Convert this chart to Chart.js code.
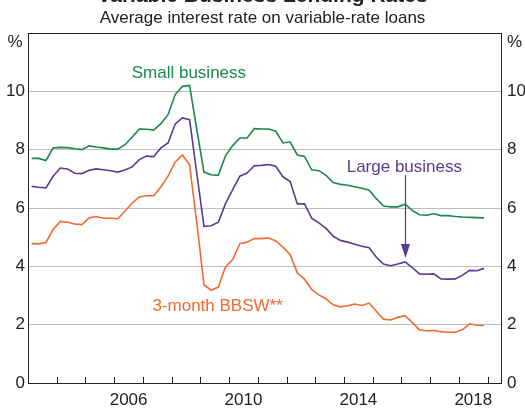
<!DOCTYPE html>
<html>
<head>
<meta charset="utf-8">
<script src="https://cdn.jsdelivr.net/npm/chart.js@4"></script>
<style>
  html, body { margin: 0; padding: 0; background: #fff; }
  #wrap { width: 525px; height: 408px; overflow: hidden; position: relative; }
  #chart { position: absolute; left: 0; top: -15px; }
</style>
</head>
<body>
<div id="wrap"><canvas id="chart" width="525" height="423"></canvas></div>
<script>
// quarterly, 2003:Q1 to 2018:Q4, plotted at mid-quarter
const firstYear = 2003;
const lastYear = 2018;
const quarters = [];
for (let y = firstYear; y <= lastYear; y++) {
  for (let q = 1; q <= 4; q++) quarters.push(y + (q - 0.5) / 4);
}

const smallBusiness = [
  7.70, 7.70, 7.63, 8.06, 8.08, 8.07, 8.03, 8.00, 8.13, 8.09, 8.06, 8.02, 8.02, 8.17, 8.43, 8.71,
  8.70, 8.67, 8.89, 9.20, 9.89, 10.17, 10.20, 8.70, 7.23, 7.14, 7.12, 7.79, 8.14, 8.40, 8.40, 8.72,
  8.71, 8.71, 8.63, 8.23, 8.27, 7.82, 7.77, 7.31, 7.28, 7.12, 6.87, 6.81, 6.78, 6.73, 6.68, 6.61,
  6.32, 6.07, 6.04, 6.04, 6.13, 5.92, 5.77, 5.75, 5.80, 5.74, 5.74, 5.71, 5.69, 5.68, 5.67, 5.66
];
const largeBusiness = [
  6.74, 6.71, 6.69, 7.09, 7.37, 7.34, 7.19, 7.18, 7.29, 7.34, 7.31, 7.28, 7.23, 7.30, 7.41, 7.66,
  7.78, 7.76, 8.06, 8.23, 8.88, 9.09, 9.03, 7.20, 5.37, 5.39, 5.51, 6.15, 6.63, 7.09, 7.20, 7.45,
  7.46, 7.49, 7.43, 7.07, 6.91, 6.14, 6.14, 5.65, 5.49, 5.30, 5.03, 4.89, 4.83, 4.76, 4.69, 4.64,
  4.31, 4.08, 4.02, 4.08, 4.15, 3.96, 3.74, 3.73, 3.74, 3.57, 3.56, 3.57, 3.70, 3.86, 3.85, 3.93
];
const bbsw = [
  4.78, 4.77, 4.82, 5.26, 5.54, 5.51, 5.45, 5.43, 5.66, 5.71, 5.65, 5.65, 5.63, 5.89, 6.17, 6.38,
  6.42, 6.42, 6.72, 7.09, 7.58, 7.82, 7.48, 5.50, 3.37, 3.18, 3.29, 3.98, 4.23, 4.78, 4.83, 4.95,
  4.95, 4.97, 4.87, 4.66, 4.41, 3.77, 3.56, 3.21, 3.02, 2.88, 2.68, 2.61, 2.65, 2.71, 2.66, 2.74,
  2.46, 2.19, 2.16, 2.25, 2.31, 2.08, 1.82, 1.79, 1.80, 1.76, 1.74, 1.74, 1.83, 2.03, 1.98, 1.97
];

const yearLabels = [2006, 2010, 2014, 2018];
const seriesNames = ['Small business', 'Large business', '3-month BBSW**'];
const seriesColors = ['#1a8a4c', '#5a3b8e', '#f4692f'];
// where the series names sit, in data units
const nameX = [2008.6, 2016.1, 2009.6];
const nameY = [10.63, 7.4, 2.64];
// arrow from the large business label down to its line
const arrowX = 2016.125;
const arrowFrom = 7.13;
const arrowTo = 4.29;

const FONT = 'Arial, "Liberation Sans", sans-serif';
const INK = '#222';

const toPoints = vals => vals.map((v, i) => ({x: quarters[i], y: v}));

const frame = {
  id: 'frame',
  afterDraw(chart) {
    const {ctx, chartArea: a, scales} = chart;
    ctx.save();
    // box round the plot
    ctx.strokeStyle = INK;
    ctx.lineWidth = 1;
    ctx.strokeRect(Math.round(a.left) + 0.5, Math.round(a.top) + 0.5,
      Math.round(a.right - a.left) - 1, Math.round(a.bottom - a.top));
    // inward year ticks
    for (let y = firstYear + 1; y <= lastYear + 1; y++) {
      const px = Math.round(scales.x.getPixelForValue(y)) + 0.5;
      ctx.beginPath();
      ctx.moveTo(px, a.bottom);
      ctx.lineTo(px, a.bottom - 6);
      ctx.stroke();
    }
    // unit labels
    ctx.font = '17px ' + FONT;
    ctx.fillStyle = INK;
    ctx.textBaseline = 'middle';
    ctx.textAlign = 'center';
    ctx.fillText('%', 15, a.top + 9);
    ctx.textAlign = 'left';
    ctx.fillText('%', a.right + 5, a.top + 9);
    // series names
    ctx.textAlign = 'center';
    seriesNames.forEach((name, i) => {
      ctx.fillStyle = seriesColors[i];
      ctx.fillText(name, scales.x.getPixelForValue(nameX[i]), scales.y.getPixelForValue(nameY[i]));
    });
    // arrow
    const ax = Math.round(scales.x.getPixelForValue(arrowX)) + 0.5;
    const y0 = scales.y.getPixelForValue(arrowFrom);
    const y1 = scales.y.getPixelForValue(arrowTo);
    ctx.strokeStyle = seriesColors[1];
    ctx.fillStyle = seriesColors[1];
    ctx.lineWidth = 1.2;
    ctx.beginPath();
    ctx.moveTo(ax, y0);
    ctx.lineTo(ax, y1 - 10);
    ctx.stroke();
    ctx.beginPath();
    ctx.moveTo(ax - 4.5, y1 - 14);
    ctx.lineTo(ax + 4.5, y1 - 14);
    ctx.lineTo(ax, y1);
    ctx.closePath();
    ctx.fill();
    ctx.restore();
  }
};

const lineSet = (label, vals, color) => ({
  label,
  data: toPoints(vals),
  borderColor: color,
  borderWidth: 1.6,
  pointRadius: 0,
  tension: 0,
  fill: false
});

new Chart(document.getElementById('chart'), {
  type: 'line',
  data: {
    datasets: [
      lineSet(seriesNames[0], smallBusiness, seriesColors[0]),
      lineSet(seriesNames[1], largeBusiness, seriesColors[1]),
      lineSet(seriesNames[2], bbsw, seriesColors[2])
    ]
  },
  options: {
    responsive: false,
    animation: false,
    layout: {padding: 0},
    plugins: {
      legend: {display: false},
      tooltip: {enabled: false},
      title: {
        display: true,
        text: 'Variable Business Lending Rates',
        color: INK,
        font: {family: FONT, size: 21, weight: 'bold', lineHeight: 1.1},
        padding: 0
      },
      subtitle: {
        display: true,
        text: 'Average interest rate on variable-rate loans',
        color: INK,
        font: {family: FONT, size: 17, lineHeight: 1.2},
        padding: {top: 0, bottom: 4.5}
      }
    },
    scales: {
      x: {
        type: 'linear',
        min: 2003,
        max: 2019.5,
        grid: {display: false, drawTicks: false},
        border: {display: false},
        ticks: {
          stepSize: 1,
          autoSkip: false,
          maxRotation: 0,
          labelOffset: 14.4,
          padding: 7,
          color: INK,
          font: {family: FONT, size: 17},
          callback: v => yearLabels.includes(v) ? String(v) : ''
        },
        afterFit: s => { s.height = 25; }
      },
      y: {
        position: 'left',
        min: 0,
        max: 12,
        grid: {color: '#bdbdbd', lineWidth: 1, drawTicks: false},
        border: {display: false},
        ticks: {
          stepSize: 2,
          padding: 3,
          color: INK,
          font: {family: FONT, size: 17},
          callback: v => v === 12 ? '' : String(v)
        },
        afterFit: s => { s.width = 28; }
      },
      y2: {
        position: 'right',
        min: 0,
        max: 12,
        grid: {display: false, drawTicks: false},
        border: {display: false},
        ticks: {
          stepSize: 2,
          padding: 5,
          color: INK,
          font: {family: FONT, size: 17},
          callback: v => v === 12 ? '' : String(v)
        },
        afterFit: s => { s.width = 23; }
      }
    }
  },
  plugins: [frame]
});
</script>
</body>
</html>
